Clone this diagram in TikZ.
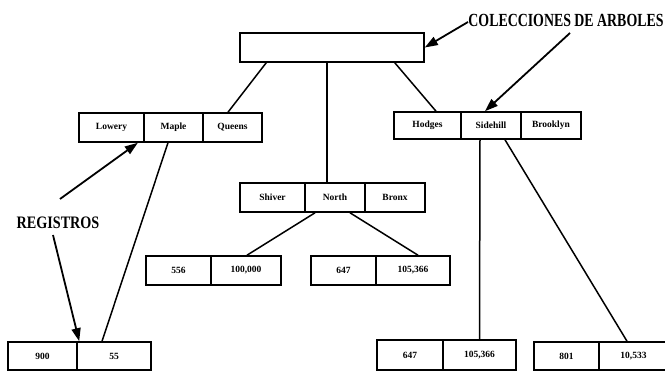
\documentclass[tikz,border=0pt]{standalone}
\usepackage{fontspec}
\setmainfont{Liberation Serif}
\usetikzlibrary{arrows.meta}

\tikzset{
  cell/.style={draw, line width=1.6pt, inner sep=0pt, minimum height=29pt,
    font=\bfseries\fontsize{9.5}{11}\selectfont},
  link/.style={line width=1.5pt},
  pointer/.style={line width=1.8pt, -{Triangle[length=13pt,width=9pt]}},
  caption/.style={font=\bfseries\fontsize{18.5}{20}\selectfont, inner sep=0pt}
}

\begin{document}
\begin{tikzpicture}[x=1pt, y=-1pt]
  \useasboundingbox (0,0) rectangle (665,371);

  % root of the collection
  \node[cell, minimum width=184pt] (root) at (332,47.5) {};

  % left child
  \node[cell, minimum width=65pt] (lowery) at (111.5,127.5) {Lowery};
  \node[cell, minimum width=59pt] (maple)  at (173.5,127.5) {Maple};
  \node[cell, minimum width=59pt] (queens) at (232.5,127.5) {Queens};

  % right child
  \node[cell, minimum width=67pt, minimum height=27pt] (hodges)   at (427.5,125.5) {Hodges};
  \node[cell, minimum width=60pt, minimum height=27pt] (sidehill) at (491,125.5) {Sidehill};
  \node[cell, minimum width=60pt, minimum height=27pt] (brooklyn) at (551,125.5) {Brooklyn};

  % middle child
  \node[cell, minimum width=65pt] (shiver) at (272.5,197.5) {Shiver};
  \node[cell, minimum width=60pt] (north)  at (335,197.5) {North};
  \node[cell, minimum width=60pt] (bronx)  at (395,197.5) {Bronx};

  % records under North
  \node[cell, minimum width=65pt] (ra) at (178.5,270.5) {556};
  \node[cell, minimum width=70pt] (rb) at (246,270.5) {100,000};
  \node[cell, minimum width=65pt] (rc) at (343.5,270.5) {647};
  \node[cell, minimum width=74pt] (rd) at (413,270.5) {105,366};

  % records on the bottom row
  \node[cell, minimum width=69pt, minimum height=28pt] (re) at (42.5,356) {900};
  \node[cell, minimum width=74pt, minimum height=28pt] (rf) at (114,356) {55};
  \node[cell, minimum width=66pt, minimum height=30pt] (rg) at (410,355) {647};
  \node[cell, minimum width=73pt, minimum height=30pt] (rh) at (479.5,355) {105,366};
  \node[cell, minimum width=65pt, minimum height=28pt] (ri) at (566.5,356) {801};
  \node[cell, minimum width=69pt, minimum height=28pt] (rj) at (633.5,356) {10,533};

  % tree links
  \draw[link] ([xshift=27pt]root.south west) -- ([xshift=-4.5pt]queens.north);
  \draw[link] ([xshift=-5pt]root.south) -- ([xshift=-8pt]north.north);
  \draw[link] ([xshift=-30pt]root.south east) -- ([xshift=8.5pt]hodges.north);
  \draw[link] ([xshift=-5.5pt]maple.south) -- ([xshift=-12pt]rf.north);
  \draw[link] ([xshift=-20pt]north.south) -- ([xshift=1pt]rb.north);
  \draw[link] ([xshift=15pt]north.south) -- ([xshift=5pt]rd.north);
  \draw[link] ([xshift=-11pt]sidehill.south) -- (rh.north);
  \draw[link] ([xshift=14pt]sidehill.south) -- ([xshift=-6.5pt]rj.north);

  % captions and their pointers
  \node[caption] (trees) at (566,20) {\scalebox{0.75}[1]{COLECCIONES DE ARBOLES}};
  \node[caption, font=\bfseries\fontsize{17.5}{19}\selectfont] (recs) at (58,223)
    {\scalebox{0.81}[1]{REGISTROS}};

  \coordinate (treesA) at (468,22);
  \coordinate (treesB) at (570,33);
  \coordinate (recsA) at (60,199);
  \coordinate (recsB) at (53,235);

  \draw[pointer] (treesA) -- (root.east);
  \draw[pointer] (treesB) -- ([xshift=-6pt]sidehill.north);
  \draw[pointer] (recsA) -- ([xshift=-7pt]lowery.south east);
  \draw[pointer] (recsB) -- ([xshift=3pt]rf.north west);
\end{tikzpicture}
\end{document}
